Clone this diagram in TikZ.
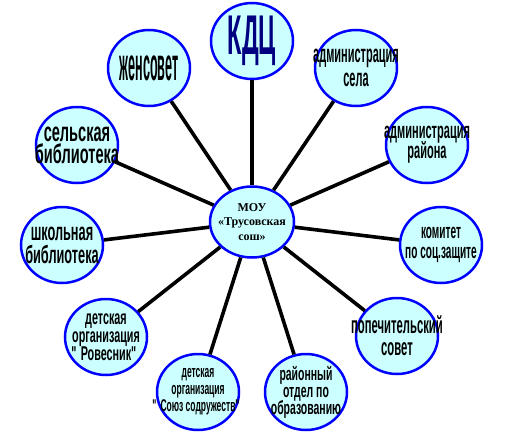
\documentclass[tikz,border=0pt]{standalone}
\usepackage{fontspec}
\setmainfont{Liberation Sans}
\newfontfamily\serifbold{Liberation Serif}
\usetikzlibrary{shapes.geometric}
\definecolor{ringblue}{HTML}{0000FF}
\definecolor{discfill}{HTML}{CCFFFF}
\definecolor{navy}{HTML}{000080}
\newcommand{\squeezed}[3]{\bfseries\fontsize{#1}{#2}\selectfont
  \addfontfeatures{FakeStretch=#3}\lineskiplimit=-\maxdimen}
\tikzset{
  disc/.style={ellipse,draw=ringblue,fill=discfill,line width=2.5pt,
    minimum width=82pt,minimum height=76pt,inner sep=0pt},
  hub/.style={disc,minimum width=84pt,minimum height=71pt},
  spoke/.style={draw=black,line width=3.6pt},
  caption/.style={align=center,inner sep=0pt,text=black}
}
\begin{document}
\begin{tikzpicture}[x=1pt,y=-1pt]
  \useasboundingbox (0,0) rectangle (505,439);
  % hub and discs
  \node[hub] (mou) at (252,222) {};
  \node[disc] (kdc) at (252,41) {};
  \node[disc] (zhen) at (149,68) {};
  \node[disc] (adms) at (356,68) {};
  \node[disc] (selb) at (77,145) {};
  \node[disc] (admr) at (427,145) {};
  \node[disc] (shkb) at (62,245) {};
  \node[disc] (komi) at (441,245) {};
  \node[disc] (rov) at (106,337) {};
  \node[disc] (pope) at (397,336) {};
  \node[disc] (soyuz) at (198,392) {};
  \node[disc] (rono) at (306,392) {};
  % spokes
  \foreach \leaf in {kdc,zhen,adms,selb,admr,shkb,komi,rov,pope,soyuz,rono}
    \draw[spoke] (mou) -- (\leaf);
  % captions
  \node[caption,font=\serifbold\bfseries\fontsize{12}{14.5}\selectfont] (mou-t) at (mou) {МОУ\\«Трусовская\\сош»};
  \node[caption,text=navy,font=\squeezed{56}{56}{0.42}] (kdc-t) at (kdc) {КДЦ};
  \node[caption,font=\squeezed{46}{46}{0.274}] (zhen-t) at (zhen) {женсовет};
  \node[caption,font=\squeezed{25}{24}{0.44}] (adms-t) at (adms) {администрация\\села};
  \node[caption,font=\squeezed{27}{22}{0.54}] (selb-t) at (selb) {сельская\\библиотека};
  \node[caption,font=\squeezed{23}{20}{0.48}] (admr-t) at (admr) {администрация\\района};
  \node[caption,font=\squeezed{25}{23}{0.51}] (shkb-t) at (shkb) {школьная\\библиотека};
  \node[caption,font=\squeezed{21}{20}{0.48}] (komi-t) at (komi) {комитет\\по соц.защите};
  \node[caption,font=\squeezed{20}{18}{0.54}] (rov-t) at (rov) {детская\\организация\\{\textquotedbl}Ровесник{\textquotedbl}};
  \node[caption,font=\squeezed{24}{22}{0.47}] (pope-t) at (pope) {попечительский\\совет};
  \node[caption,font=\squeezed{17}{17}{0.5}] (soyuz-t) at (soyuz) {детская\\организация\\{\textquotedbl}Союз содружеств{\textquotedbl}};
  \node[caption,font=\squeezed{19}{17}{0.55}] (rono-t) at (rono) {районный\\отдел по\\образованию};
\end{tikzpicture}
\end{document}
